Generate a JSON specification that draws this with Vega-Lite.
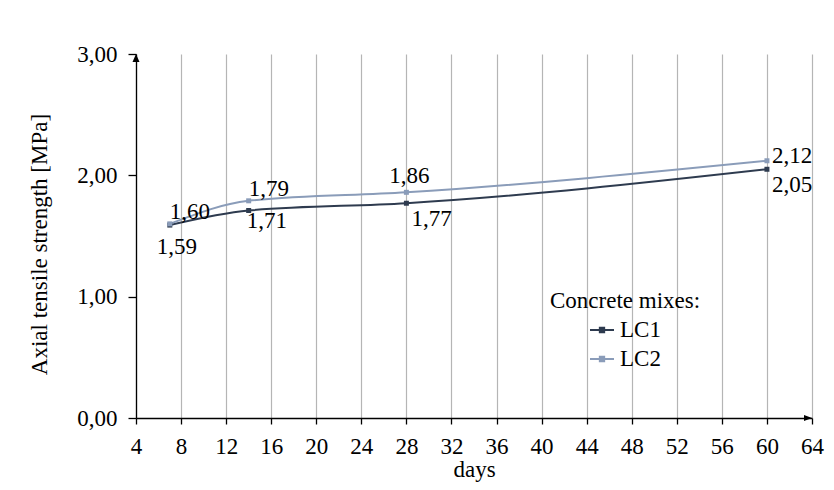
{
  "$schema": "https://vega.github.io/schema/vega-lite/v6.json",
  "width": 676,
  "height": 364,
  "autosize": {"type": "none"},
  "padding": {"left": 136, "top": 54, "right": 22, "bottom": 72},
  "background": "white",
  "config": {
    "locale": {"number": {"decimal": ",", "thousands": " ", "grouping": [3], "currency": ["", ""]}},
    "view": {"stroke": null},
    "font": "Liberation Serif",
    "text": {"font": "Liberation Serif"},
    "axis": {"labelFont": "Liberation Serif", "titleFont": "Liberation Serif", "labelFontSize": 23, "titleFontSize": 23, "labelColor": "black", "titleColor": "black", "titleFontWeight": "normal", "domainColor": "black", "tickColor": "black", "domainWidth": 1.3, "tickWidth": 1.3},
    "legend": {"labelFont": "Liberation Serif", "titleFont": "Liberation Serif"}
  },
  "datasets": {
    "main": [
      {"day": 7, "value": 1.59, "series": "LC1"},
      {"day": 14, "value": 1.71, "series": "LC1"},
      {"day": 28, "value": 1.77, "series": "LC1"},
      {"day": 60, "value": 2.05, "series": "LC1"},
      {"day": 7, "value": 1.60, "series": "LC2"},
      {"day": 14, "value": 1.79, "series": "LC2"},
      {"day": 28, "value": 1.86, "series": "LC2"},
      {"day": 60, "value": 2.12, "series": "LC2"}
    ],
    "yarrow": [{"day": 4, "value": 3}],
    "xarrow": [{"day": 64, "value": 0}]
  },
  "data": {"name": "main"},
  "encoding": {
    "x": {"field": "day", "type": "quantitative",
      "scale": {"domain": [4, 64], "nice": false, "zero": false},
      "axis": {"values": [4, 8, 12, 16, 20, 24, 28, 32, 36, 40, 44, 48, 52, 56, 60, 64], "format": "d", "grid": true, "gridColor": "#b5b5b5", "gridWidth": 1.2, "tickSize": 6, "labelPadding": 11, "title": "days", "titlePadding": 0, "labelFlush": false, "labelOverlap": false, "labelFont": "Liberation Serif", "titleFont": "Liberation Serif"}},
    "y": {"field": "value", "type": "quantitative",
      "scale": {"domain": [0, 3], "nice": false},
      "axis": {"values": [0, 1, 2, 3], "format": ".2f", "grid": false, "tickSize": 8, "labelPadding": 11, "title": "Axial tensile strength [MPa]", "titlePadding": 25, "titleY": 190, "labelFlush": false, "labelFont": "Liberation Serif", "titleFont": "Liberation Serif"}}
  },
  "layer": [
    {
      "mark": {"type": "line", "interpolate": "monotone", "strokeWidth": 2},
      "encoding": {
        "color": {"field": "series", "type": "nominal",
          "scale": {"domain": ["LC1", "LC2"], "range": ["#2e3b4f", "#8a9cb9"]},
          "legend": {"title": "Concrete mixes:", "orient": "none", "legendX": 414, "legendY": 236, "padding": 0,
            "titleFont": "Liberation Serif", "labelFont": "Liberation Serif",
            "titleFontSize": 23, "titleFontWeight": "normal", "titleColor": "black", "titlePadding": 4,
            "labelFontSize": 23, "labelColor": "black", "labelOffset": 5, "symbolOffset": 39,
            "symbolType": "M-1,0H1M-0.18,-0.18H0.18V0.18H-0.18Z", "symbolSize": 576, "symbolStrokeWidth": 2,
            "rowPadding": 4}
        }
      }
    },
    {
      "mark": {"type": "point", "shape": "square", "size": 25, "filled": true, "opacity": 1},
      "encoding": {"color": {"field": "series", "type": "nominal", "legend": null}}
    },
    {
      "data": {"name": "yarrow"},
      "mark": {"type": "point", "shape": "M0,0L0.35,0.8L-0.35,0.8Z", "size": 400, "filled": true, "color": "black", "opacity": 1}
    },
    {
      "data": {"name": "xarrow"},
      "mark": {"type": "point", "shape": "M0,0L-0.8,-0.3L-0.8,0.3Z", "size": 400, "filled": true, "color": "black", "opacity": 1}
    },
    {
      "transform": [{"filter": "datum.series == 'LC2' && datum.day <= 14"}],
      "mark": {"type": "text", "font": "Liberation Serif", "align": "left", "baseline": "alphabetic", "dx": 0, "dy": -5, "fontSize": 23, "color": "black"},
      "encoding": {"text": {"field": "value", "type": "quantitative", "format": ".2f"}}
    },
    {
      "transform": [{"filter": "datum.series == 'LC2' && datum.day == 28"}],
      "mark": {"type": "text", "font": "Liberation Serif", "align": "center", "baseline": "alphabetic", "dx": 3, "dy": -9, "fontSize": 23, "color": "black"},
      "encoding": {"text": {"field": "value", "type": "quantitative", "format": ".2f"}}
    },
    {
      "transform": [{"filter": "datum.series == 'LC2' && datum.day == 60"}],
      "mark": {"type": "text", "font": "Liberation Serif", "align": "left", "baseline": "alphabetic", "dx": 5, "dy": 2, "fontSize": 23, "color": "black"},
      "encoding": {"text": {"field": "value", "type": "quantitative", "format": ".2f"}}
    },
    {
      "transform": [{"filter": "datum.series == 'LC1' && datum.day == 7"}],
      "mark": {"type": "text", "font": "Liberation Serif", "align": "center", "baseline": "alphabetic", "dx": 7, "dy": 29, "fontSize": 23, "color": "black"},
      "encoding": {"text": {"field": "value", "type": "quantitative", "format": ".2f"}}
    },
    {
      "transform": [{"filter": "datum.series == 'LC1' && datum.day == 14"}],
      "mark": {"type": "text", "font": "Liberation Serif", "align": "left", "baseline": "alphabetic", "dx": -2, "dy": 17, "fontSize": 23, "color": "black"},
      "encoding": {"text": {"field": "value", "type": "quantitative", "format": ".2f"}}
    },
    {
      "transform": [{"filter": "datum.series == 'LC1' && datum.day >= 28"}],
      "mark": {"type": "text", "font": "Liberation Serif", "align": "left", "baseline": "alphabetic", "dx": 5, "dy": 23, "fontSize": 23, "color": "black"},
      "encoding": {"text": {"field": "value", "type": "quantitative", "format": ".2f"}}
    }
  ]
}
